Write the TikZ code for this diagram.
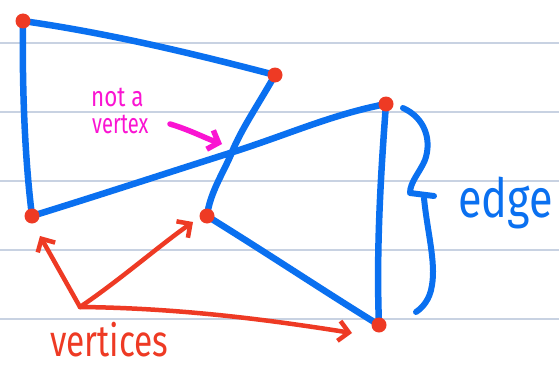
\documentclass[tikz,border=0pt]{standalone}
\usepackage{fontspec}
\setmainfont{Fira Sans}
\usetikzlibrary{arrows.meta}
\definecolor{penblue}{RGB}{10,112,240}
\definecolor{penred}{RGB}{238,58,36}
\definecolor{penpink}{RGB}{250,20,210}
\definecolor{rulecol}{RGB}{200,210,226}
\tikzset{
  rulel/.style={rulecol, line width=1.6pt},
  edgeline/.style={penblue, line width=6.5pt, line cap=round, line join=round},
  dot/.style={fill=penred},
  redarrow/.style={penred, line width=4.5pt, line cap=round, line join=round, -{Straight Barb[length=10pt,width=20pt,line width=4.5pt]}},
  pinkarrow/.style={penpink, line width=5.5pt, line cap=round, line join=round, -{Straight Barb[length=9pt,width=20pt,line width=5.5pt]}},
  brace/.style={penblue, line width=6pt, line cap=round, line join=round},
  lbl/.style={inner sep=0pt, anchor=base west}
}
\begin{document}
\begin{tikzpicture}[x=1pt,y=-1pt]
\useasboundingbox (0,0) rectangle (559,369);
\fill[white] (0,0) rectangle (559,369);
% ruled lines
\foreach \yy in {43,112,181,250,319} \draw[rulel] (0,\yy) -- (559,\yy);
% vertices
\coordinate (A) at (23,21);
\coordinate (B) at (275,75);
\coordinate (C) at (386,104);
\coordinate (D) at (32,216);
\coordinate (E) at (207,216);
\coordinate (F) at (379,325);
% edges
\draw[edgeline] (A) .. controls (22,90) and (25,160) .. (D);
\draw[edgeline] (A) .. controls (100,32) and (180,50) .. (B);
\draw[edgeline] (B) .. controls (258,105) and (242,128) .. (232,152) .. controls (224,172) and (210,192) .. (E);
\draw[edgeline] (D) .. controls (100,195) and (170,172) .. (230,153) .. controls (290,134) and (330,115) .. (C);
\draw[edgeline] (C) .. controls (381,170) and (376,250) .. (F);
\draw[edgeline] (E) .. controls (270,255) and (330,295) .. (F);
% dots
\foreach \v in {A,B,C,D,E,F} \fill[dot] (\v) circle (7.5pt);
% brace
\draw[brace] (403,108) .. controls (425,118) and (432,140) .. (425,160) .. controls (420,172) and (410,182) .. (410,193) -- (434,196);
\draw[brace] (424,198) .. controls (427,230) and (436,262) .. (432,285) .. controls (430,300) and (422,308) .. (416,312);
\node[lbl, penblue] (edgelbl) at (458,217) {\fontsize{54}{54}\selectfont\scalebox{0.8}[1]{edge}};
% not a vertex
\node[lbl, penpink] (nav1) at (91,106) {\fontsize{28}{28}\selectfont\scalebox{0.8}[1]{not a}};
\node[lbl, penpink] (nav2) at (92,133) {\fontsize{28}{28}\selectfont\scalebox{0.72}[1]{vertex}};
\coordinate (pinkS) at (170,124);
\coordinate (pinkT) at (222,144);
\draw[pinkarrow] (pinkS) .. controls (190,130) and (205,138) .. (pinkT);
% red arrows
\coordinate (O) at (80,307);
\coordinate (tD) at (40,236);
\coordinate (tE) at (193,222);
\coordinate (tF) at (352,333);
\draw[redarrow] (O) -- (tD);
\draw[redarrow] (O) .. controls (120,280) and (160,245) .. (tE);
\draw[redarrow] (O) .. controls (180,308) and (270,320) .. (tF);
\node[lbl, penred] (vlbl) at (50,356) {\fontsize{44}{44}\selectfont\scalebox{0.76}[1]{vertices}};
\end{tikzpicture}
\end{document}
